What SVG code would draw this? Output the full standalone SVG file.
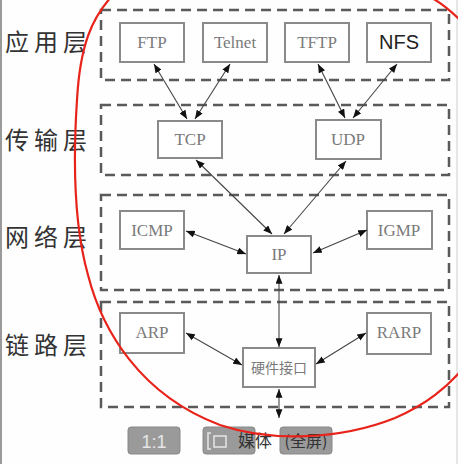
<svg xmlns="http://www.w3.org/2000/svg" width="458" height="464" viewBox="0 0 458 464">
<style>
.layer{fill:none;stroke:#5a5a5a;stroke-width:2.5;stroke-dasharray:10 6}
.node{fill:#fff;stroke:#8a8a8a;stroke-width:2}
.nt{font-family:"Liberation Serif","DejaVu Serif",serif;font-size:17px;fill:#7a7a7a;text-anchor:middle}
.lab{font-family:"Noto Sans CJK SC","Noto Sans CJK JP",sans-serif;font-size:24px;fill:#333;letter-spacing:5px}
.conn line{stroke:#444;stroke-width:1.1;marker-start:url(#ah);marker-end:url(#ah)}
.btn{fill:#9a9a9a;stroke:#888;stroke-width:1}
</style>
<defs>
<marker id="ah" viewBox="0 0 10 8" refX="10" refY="4" markerWidth="9" markerHeight="7" markerUnits="userSpaceOnUse" orient="auto-start-reverse">
<path d="M0,0 L10,4 L0,8 z" fill="#111"/>
</marker>
</defs>
<rect width="458" height="464" fill="#fefefe"/>
<line x1="1" y1="0" x2="1" y2="464" stroke="#9a9a9a" stroke-width="2"/>
<line x1="457" y1="0" x2="457" y2="464" stroke="#cfcfcf" stroke-width="1"/>

<g id="layers">
<rect class="layer" x="101" y="10" width="348" height="70"/>
<rect class="layer" x="101" y="105" width="348" height="70"/>
<rect class="layer" x="101" y="195" width="348" height="95"/>
<rect class="layer" x="101" y="302" width="348" height="105"/>
</g>

<g id="labels">
<text class="lab" x="5" y="51">应用层</text>
<text class="lab" x="5" y="149">传输层</text>
<text class="lab" x="5" y="246">网络层</text>
<text class="lab" x="5" y="354">链路层</text>
</g>

<g id="FTP"><rect class="node" x="120" y="23" width="64" height="39"/><text class="nt" x="152" y="48">FTP</text></g>
<g id="Telnet"><rect class="node" x="203" y="23" width="64" height="39"/><text class="nt" x="235" y="48">Telnet</text></g>
<g id="TFTP"><rect class="node" x="285" y="23" width="64" height="39"/><text class="nt" x="317" y="48">TFTP</text></g>
<g id="NFS"><rect class="node" x="367" y="23" width="64" height="39"/><text x="399" y="49" text-anchor="middle" font-family="Liberation Sans,Arial,sans-serif" font-size="20" fill="#222" textLength="40">NFS</text></g>
<g id="TCP"><rect class="node" x="158" y="121" width="64" height="37"/><text class="nt" x="190" y="145">TCP</text></g>
<g id="UDP"><rect class="node" x="316" y="120" width="65" height="39"/><text class="nt" x="348" y="145">UDP</text></g>
<g id="ICMP"><rect class="node" x="120" y="211" width="64" height="38"/><text class="nt" x="152" y="236">ICMP</text></g>
<g id="IP"><rect class="node" x="247" y="236" width="64" height="37"/><text class="nt" x="279" y="260">IP</text></g>
<g id="IGMP"><rect class="node" x="367" y="211" width="65" height="38"/><text class="nt" x="399" y="236">IGMP</text></g>
<g id="ARP"><rect class="node" x="120" y="313" width="64" height="40"/><text class="nt" x="152" y="338">ARP</text></g>
<g id="RARP"><rect class="node" x="367" y="313" width="64" height="41"/><text class="nt" x="399" y="338">RARP</text></g>
<g id="HW"><rect class="node" x="243" y="348" width="72" height="39"/><text x="279" y="373" text-anchor="middle" font-family="Noto Sans CJK SC,sans-serif" font-size="14" fill="#7a7a7a">硬件接口</text></g>

<g id="connectors" class="conn">
<line x1="154" y1="64" x2="187" y2="119"/>
<line x1="230" y1="64" x2="195" y2="119"/>
<line x1="318" y1="64" x2="345" y2="118"/>
<line x1="397" y1="64" x2="353" y2="118"/>
<line x1="196" y1="160" x2="272" y2="234"/>
<line x1="346" y1="161" x2="284" y2="234"/>
<line x1="186" y1="231" x2="246" y2="254"/>
<line x1="367" y1="230" x2="313" y2="253"/>
<line x1="279" y1="275" x2="279" y2="347"/>
<line x1="186" y1="333" x2="242" y2="365"/>
<line x1="366" y1="333" x2="316" y2="364"/>
<line x1="279" y1="389" x2="279" y2="418"/>
</g>

<g id="toolbar">
<rect class="btn" x="128" y="427" width="52" height="27" rx="3"/>
<text x="154" y="448" text-anchor="middle" font-family="Liberation Sans,sans-serif" font-size="18" fill="#e6e6e6">1:1</text>
<rect class="btn" x="203" y="427" width="52" height="27" rx="3"/>
<path d="M211,433 h-3 v16 h3 M214,436 h12 v11 h-12 z" fill="none" stroke="#e6e6e6" stroke-width="1.5"/>
<rect class="btn" x="280" y="427" width="52" height="27" rx="3" fill="#7e8a8a"/>
<text x="238" y="447" font-family="Noto Sans CJK SC,sans-serif" font-size="17" fill="#333">媒体</text>
<text x="306" y="447" text-anchor="middle" font-family="Noto Sans CJK SC,sans-serif" font-size="16" fill="#333">(全屏)</text>
</g>

<path d="M112,-4 C92,18 80,45 77,100 C73,160 74,225 88,275 C102,330 140,395 220,425 C270,442 340,440 395,418 C425,405 448,388 470,360" fill="none" stroke="#e8231a" stroke-width="2.2"/>
<path d="M430,-3 C442,3 452,12 462,22" fill="none" stroke="#e8231a" stroke-width="2.2"/>
</svg>
